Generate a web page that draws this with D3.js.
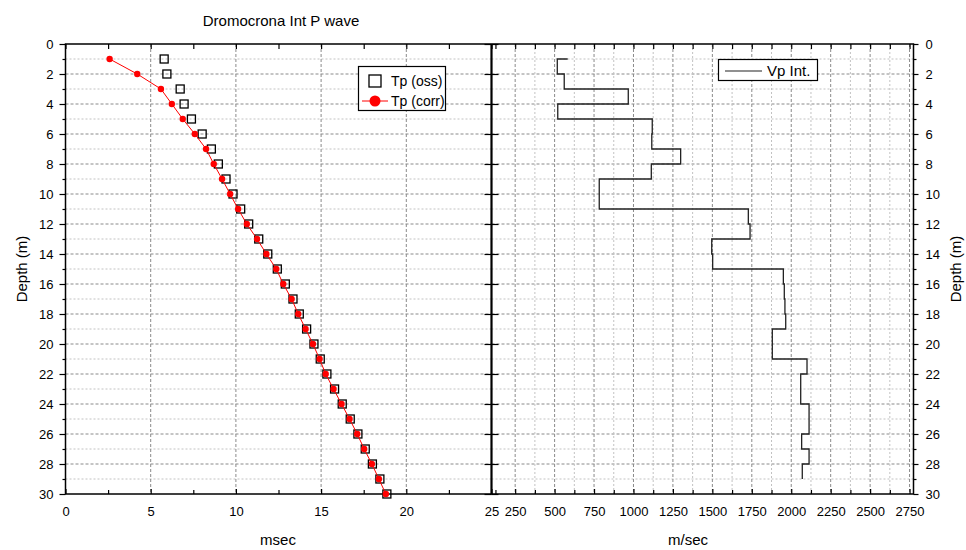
<!DOCTYPE html>
<html>
<head>
<meta charset="utf-8">
<script src="https://d3js.org/d3.v7.min.js"></script>
<style>
  body { margin: 0; background: #fff; }
  text { font-family: "Liberation Sans", Arial, sans-serif; fill: #000; }
  .tick text { font-size: 13px; }
</style>
</head>
<body>
<script>
// depths of the geophones (m)
var depth = [1, 2, 3, 4, 5, 6, 7, 8, 9, 10, 11, 12, 13, 14, 15, 16, 17, 18, 19, 20, 21, 22, 23, 24, 25, 26, 27, 28, 29, 30];
// travel times (msec)
var tpOss = [5.79, 5.95, 6.73, 6.96, 7.39, 8.02, 8.56, 8.97, 9.42, 9.83, 10.28, 10.75, 11.34, 11.87, 12.43, 12.90, 13.35, 13.72, 14.15, 14.58, 14.95, 15.34, 15.79, 16.24, 16.71, 17.16, 17.59, 18.01, 18.45, 18.86];
var tpCorr = [2.59, 4.21, 5.60, 6.24, 6.88, 7.59, 8.25, 8.70, 9.19, 9.66, 10.13, 10.64, 11.24, 11.79, 12.37, 12.78, 13.27, 13.66, 14.09, 14.52, 14.91, 15.27, 15.73, 16.20, 16.67, 17.12, 17.53, 17.98, 18.39, 18.80];

// interval velocity (m/sec), layer from vpTop to vpTop + 1
var vpStart = 583;
var vpTop = [1, 2, 3, 4, 5, 6, 7, 8, 9, 10, 11, 12, 13, 14, 15, 16, 17, 18, 19, 20, 21, 22, 23, 24, 25, 26, 27, 28];
var vpInt = [517, 561, 967, 520, 1119, 1116, 1299, 1113, 783, 783, 1728, 1739, 1496, 1502, 1950, 1956, 1960, 1965, 1880, 1880, 2100, 2060, 2060, 2113, 2113, 2066, 2113, 2070];

// tick labels
var depthTicks = [0, 2, 4, 6, 8, 10, 12, 14, 16, 18, 20, 22, 24, 26, 28, 30];
var depthMinor = [1, 3, 5, 7, 9, 11, 13, 15, 17, 19, 21, 23, 25, 27, 29];
var timeTicks = [0, 5, 10, 15, 20, 25];
var timeMinor = [2.5, 7.5, 12.5, 17.5, 22.5];
var velTicks = [250, 500, 750, 1000, 1250, 1500, 1750, 2000, 2250, 2500, 2750];
var velMinor = [125, 375, 625, 875, 1125, 1375, 1625, 1875, 2125, 2375, 2625];

var width = 966, height = 550;
var yTop = 44, yBot = 494, xl = 65.5, xm = 491.5, xr = 913.5;

var svg = d3.select("body").append("svg").attr("width", width).attr("height", height);

var y = d3.scaleLinear().domain([0, 30]).range([yTop, yBot]);
var xt = d3.scaleLinear().domain([0, 25]).range([xl, xm]);
var xv = d3.scaleLinear().domain([100, 2775]).range([xm, xr]);
var fmt = d3.format("d");

// grids
function hgrid(x0, x1) {
  svg.append("g").selectAll("line").data(depthTicks.slice(1, -1)).enter().append("line")
    .attr("x1", x0).attr("x2", x1).attr("y1", d => y(d)).attr("y2", d => y(d))
    .attr("stroke", "#8a8a8a").attr("stroke-dasharray", "3,2");
  svg.append("g").selectAll("line").data(depthMinor).enter().append("line")
    .attr("x1", x0).attr("x2", x1).attr("y1", d => y(d)).attr("y2", d => y(d))
    .attr("stroke", "#c2c2c2").attr("stroke-dasharray", "2,2");
}
hgrid(xl, xm);
hgrid(xm, xr);

svg.append("g").selectAll("line").data(timeTicks.slice(1, -1)).enter().append("line")
  .attr("x1", d => xt(d)).attr("x2", d => xt(d)).attr("y1", yTop).attr("y2", yBot)
  .attr("stroke", "#8a8a8a").attr("stroke-dasharray", "3,2");
svg.append("g").selectAll("line").data(velTicks).enter().append("line")
  .attr("x1", d => xv(d)).attr("x2", d => xv(d)).attr("y1", yTop).attr("y2", yBot)
  .attr("stroke", "#8a8a8a").attr("stroke-dasharray", "3,2");
svg.append("g").selectAll("line").data(velMinor.slice(1)).enter().append("line")
  .attr("x1", d => xv(d)).attr("x2", d => xv(d)).attr("y1", yTop).attr("y2", yBot)
  .attr("stroke", "#c2c2c2").attr("stroke-dasharray", "2,2");

// axes
function ax(gen, tx, ty, noLabel) {
  var g = svg.append("g").attr("transform", "translate(" + tx + "," + ty + ")").call(gen);
  g.select(".domain").remove();
  g.selectAll(".tick line").attr("stroke", "#000").attr("stroke-width", 1.2);
  if (noLabel) g.selectAll(".tick text").remove();
  return g;
}
// left panel
ax(d3.axisLeft(y).tickValues(depthTicks).tickFormat(fmt).tickSizeInner(6).tickPadding(6), xl, 0);
ax(d3.axisLeft(y).tickValues(depthMinor).tickSize(3), xl, 0, true);
ax(d3.axisBottom(xt).tickValues(timeTicks.concat(timeMinor)).tickSize(5), 0, yTop, true);
ax(d3.axisBottom(xt).tickValues(timeTicks).tickFormat(fmt).tickSizeInner(-5).tickPadding(13), 0, yBot);
ax(d3.axisBottom(xt).tickValues(timeMinor).tickSize(-4), 0, yBot, true);
// divider
ax(d3.axisLeft(y).tickValues(depthTicks).tickSize(7), xm, 0, true);
ax(d3.axisRight(y).tickValues(depthTicks).tickSize(7), xm, 0, true);
// right panel
ax(d3.axisRight(y).tickValues(depthTicks).tickFormat(fmt).tickSizeInner(5).tickPadding(7), xr, 0);
ax(d3.axisRight(y).tickValues(depthMinor).tickSize(3), xr, 0, true);
ax(d3.axisBottom(xv).tickValues(velTicks.concat(velMinor)).tickSize(5), 0, yTop, true);
ax(d3.axisBottom(xv).tickValues(velTicks).tickFormat(fmt).tickSizeInner(-5).tickPadding(13), 0, yBot);
ax(d3.axisBottom(xv).tickValues(velMinor).tickSize(-4), 0, yBot, true);

// frames
svg.append("rect").attr("x", xl).attr("y", yTop).attr("width", xr - xl).attr("height", yBot - yTop)
  .attr("fill", "none").attr("stroke", "#000").attr("stroke-width", 1.5);
svg.append("line").attr("x1", xm).attr("x2", xm).attr("y1", yTop).attr("y2", yBot)
  .attr("stroke", "#000").attr("stroke-width", 2.2);

// travel time series
var sq = 8;
svg.append("g").selectAll("rect").data(depth).enter().append("rect")
  .attr("x", (d, i) => xt(tpOss[i]) - sq / 2).attr("y", d => y(d) - sq / 2)
  .attr("width", sq).attr("height", sq)
  .attr("fill", "none").attr("stroke", "#000").attr("stroke-width", 1.3);

var line = d3.line().x((d, i) => xt(tpCorr[i])).y(d => y(d));
svg.append("path").datum(depth).attr("d", line)
  .attr("fill", "none").attr("stroke", "#ff0000").attr("stroke-width", 1);
svg.append("g").selectAll("circle").data(depth).enter().append("circle")
  .attr("cx", (d, i) => xt(tpCorr[i])).attr("cy", d => y(d)).attr("r", 3.2)
  .attr("fill", "#ff0000");

// interval velocity step line
var steps = [[vpStart, vpTop[0]]];
vpTop.forEach(function(d, i) {
  steps.push([vpInt[i], d]);
  steps.push([vpInt[i], d + 1]);
});
svg.append("path").datum(steps)
  .attr("d", d3.line().x(d => xv(d[0])).y(d => y(d[1])))
  .attr("fill", "none").attr("stroke", "#222").attr("stroke-width", 1.3);

// titles
svg.append("text").attr("x", 281).attr("y", 26).attr("text-anchor", "middle")
  .style("font-size", "15px").text("Dromocrona Int P wave");
svg.append("text").attr("x", 278).attr("y", 545).attr("text-anchor", "middle")
  .style("font-size", "15px").text("msec");
svg.append("text").attr("x", 688).attr("y", 545).attr("text-anchor", "middle")
  .style("font-size", "15px").text("m/sec");
svg.append("text").attr("transform", "translate(27," + y(15) + ") rotate(-90)")
  .attr("text-anchor", "middle").style("font-size", "15px").text("Depth (m)");
svg.append("text").attr("transform", "translate(961," + y(15) + ") rotate(-90)")
  .attr("text-anchor", "middle").style("font-size", "15px").text("Depth (m)");

// legend left
var lg = svg.append("g");
lg.append("rect").attr("x", 358.5).attr("y", 66.5).attr("width", 87).attr("height", 44)
  .attr("fill", "#fff").attr("stroke", "#000").attr("stroke-width", 1.2);
lg.append("rect").attr("x", 369).attr("y", 75).attr("width", 12).attr("height", 12)
  .attr("fill", "none").attr("stroke", "#000").attr("stroke-width", 1.3);
lg.append("line").attr("x1", 362).attr("x2", 388).attr("y1", 101).attr("y2", 101)
  .attr("stroke", "#ff0000").attr("stroke-width", 1);
lg.append("circle").attr("cx", 375).attr("cy", 101).attr("r", 5.5).attr("fill", "#ff0000");
lg.append("text").attr("x", 391).attr("y", 86).style("font-size", "14px").text("Tp (oss)");
lg.append("text").attr("x", 391).attr("y", 106).style("font-size", "14px").text("Tp (corr)");

// legend right
var lr = svg.append("g");
lr.append("rect").attr("x", 718.5).attr("y", 59.5).attr("width", 99).attr("height", 21)
  .attr("fill", "#fff").attr("stroke", "#000").attr("stroke-width", 1.2);
lr.append("line").attr("x1", 725).attr("x2", 762).attr("y1", 71).attr("y2", 71)
  .attr("stroke", "#222").attr("stroke-width", 1.2);
lr.append("text").attr("x", 767).attr("y", 76).style("font-size", "15px").text("Vp Int.");
</script>
</body>
</html>
